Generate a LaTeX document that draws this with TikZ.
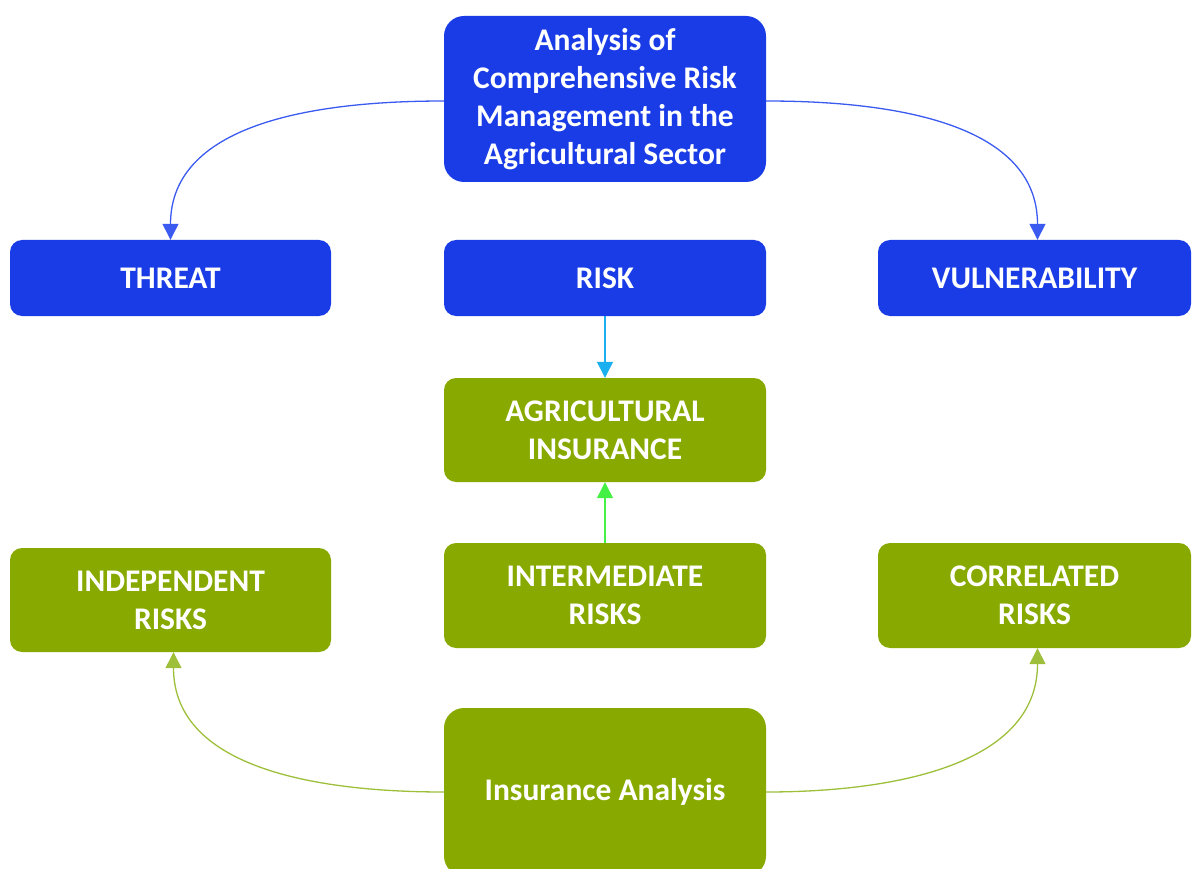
\documentclass[tikz,border=0pt]{standalone}
\usepackage{fontspec}
\setmainfont{Carlito}
\usetikzlibrary{arrows.meta}
\definecolor{boxblue}{HTML}{1A3CE6}
\definecolor{boxgreen}{HTML}{88AA00}
\definecolor{lineblue}{HTML}{3A5AF0}
\definecolor{linecyan}{HTML}{1AB0F0}
\definecolor{linelime}{HTML}{44F044}
\definecolor{lineolive}{HTML}{9DBF3A}
\tikzset{
  bx/.style={rounded corners=12pt, inner sep=0pt, align=center, text=white,
    font=\fontsize{31.5pt}{38pt}\selectfont\bfseries},
  bluebx/.style={bx, fill=boxblue},
  greenbx/.style={bx, fill=boxgreen},
  conn/.style={line width=1.3pt, -{Triangle[length=16pt,width=16pt]}},
}
\begin{document}
\begin{tikzpicture}[x=1pt,y=-1pt]
\useasboundingbox (0,0) rectangle (1192,869);
\node[bluebx, rounded corners=20pt, minimum width=322pt, minimum height=166pt] (top) at (605,99)
  {Analysis of\\Comprehensive Risk\\Management in the\\Agricultural Sector};
\node[bluebx, minimum width=321pt, minimum height=76pt] (threat) at (170.5,278) {THREAT};
\node[bluebx, minimum width=322pt, minimum height=76pt] (risk) at (605,278) {RISK};
\node[bluebx, minimum width=313pt, minimum height=76pt] (vuln) at (1034.5,278) {VULNERABILITY};
\node[greenbx, minimum width=322pt, minimum height=104pt] (agri) at (605,430) {AGRICULTURAL\\INSURANCE};
\node[greenbx, minimum width=321pt, minimum height=104pt] (indep) at (170.5,600) {INDEPENDENT\\RISKS};
\node[greenbx, minimum width=322pt, minimum height=105pt] (inter) at (605,595.5) {INTERMEDIATE\\RISKS};
\node[greenbx, minimum width=313pt, minimum height=105pt] (corr) at (1034.5,595.5) {CORRELATED\\RISKS};
\node[greenbx, rounded corners=20pt, minimum width=322pt, minimum height=168pt] (ins) at (605,792) {Insurance Analysis};

\draw[conn, lineblue] ([yshift=-2pt]top.west) to[out=180, in=90] (threat.north);
\draw[conn, lineblue] ([yshift=-2pt]top.east) to[out=0, in=90] ([xshift=3pt]vuln.north);
\draw[conn, linecyan] (risk.south) -- (agri.north);
\draw[conn, linelime] (inter.north) -- (agri.south);
\draw[conn, lineolive] (ins.west) to[out=180, in=-90] ([xshift=3pt]indep.south);
\draw[conn, lineolive] (ins.east) to[out=0, in=-90] ([xshift=3pt]corr.south);
\end{tikzpicture}
\end{document}
